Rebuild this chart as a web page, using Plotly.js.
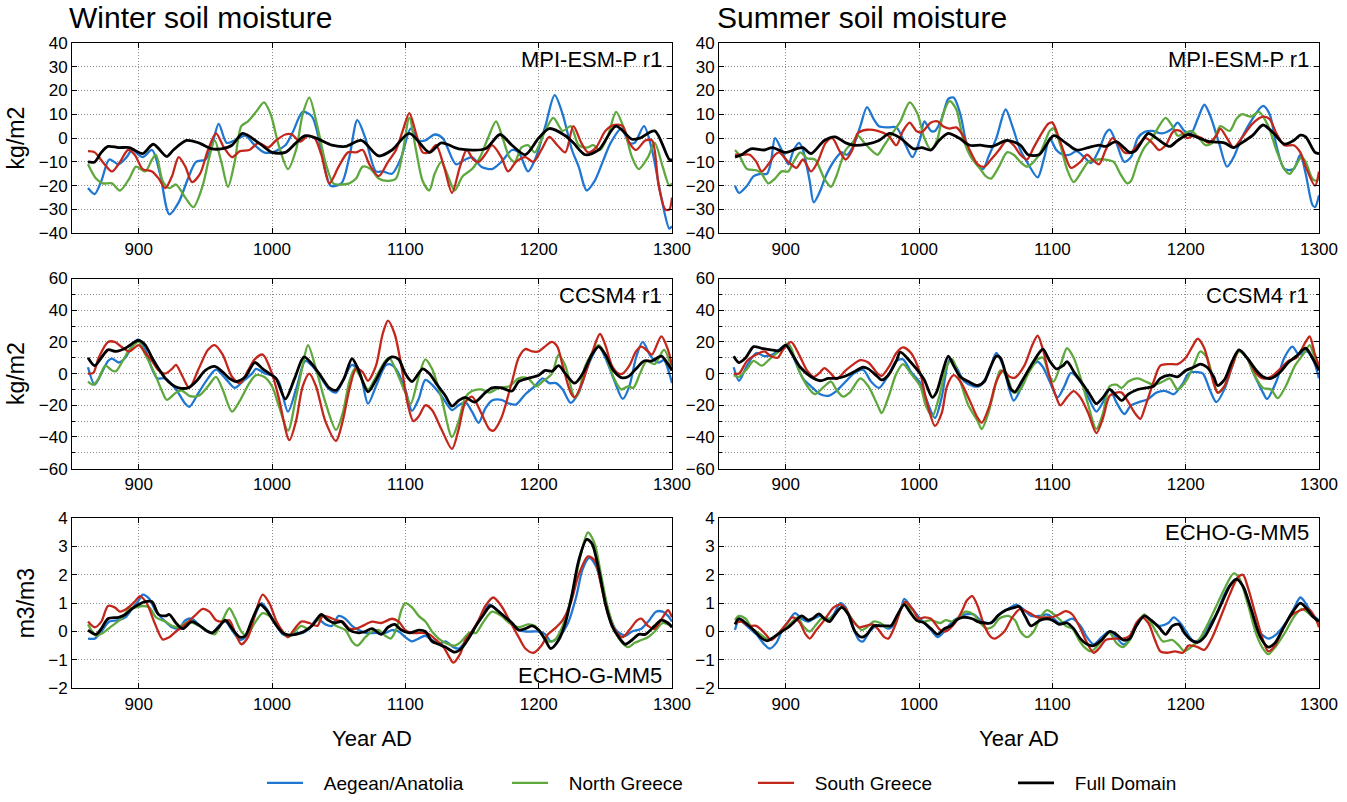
<!DOCTYPE html>
<html>
<head>
<meta charset="utf-8">
<script src="https://cdn.plot.ly/plotly-3.0.1.min.js"></script>
<style>html,body{margin:0;padding:0;background:#fff}#chart{width:1347px;height:802px}</style>
</head>
<body>
<div id="chart"></div>
<script>
// ---------- DATA (year, value) ----------
const SERIES_NAMES = ['Aegean/Anatolia', 'North Greece', 'South Greece', 'Full Domain'];
const PANEL_LABELS = ['MPI-ESM-P r1', 'MPI-ESM-P r1', 'CCSM4 r1', 'CCSM4 r1', 'ECHO-G-MM5', 'ECHO-G-MM5'];
const X_TICKS = [900, 1000, 1100, 1200, 1300];

// Winter, MPI-ESM-P r1
const W_MPI_AEG = [[862,-21],[867,-23.5],[872,-18],[878,-9],[885,-11],[891,-8],[895,-5],[903,-8],[910,-5],[916,-15],[923,-32],[930,-27],[937,-17],[943,-10],[950,-9],[955,-3],[960,6],[966,-2],[972,-1],[980,1],[987,-3],[994,-6],[1000,-6],[1010,-3],[1016,3],[1023,11],[1030,9],[1037,-5],[1044,-20],[1052,-19],[1058,-8],[1064,7.5],[1070,0],[1078,-14],[1083,-14],[1090,-15],[1097,-8],[1104,4],[1110,-1],[1115,-1],[1122,1.5],[1128,0],[1138,-11],[1145,-9],[1150,-8],[1157,-12],[1165,-13],[1172,-10],[1180,-5],[1185,-6],[1192,-14],[1198,-8],[1205,5],[1212,18],[1218,10],[1225,-5],[1230,-12],[1236,-22],[1242,-18],[1248,-10],[1254,-2],[1262,4],[1268,-2],[1272,-2],[1279,5],[1285,-5],[1292,-25],[1298,-38],[1300,-37]];
const W_MPI_NG = [[862,-11],[868,-17],[873,-19],[880,-19],[886,-22],[893,-17],[898,-12],[905,-14],[910,-9],[913,-7],[918,-18],[923,-21],[928,-19.5],[935,-25],[941,-29],[948,-20],[953,-8],[957,-1],[962,-10],[967,-20.5],[972,-10],[977,5],[982,7],[988,11],[994,15],[999,10],[1005,-3],[1012,-13],[1018,-5],[1023,10],[1028,17],[1034,5],[1040,-10],[1046,-19],[1052,-19.5],[1058,-19],[1063,-17],[1068,-12],[1074,-13],[1080,-17],[1087,-18],[1093,-17],[1098,-6],[1103,8.5],[1108,-5],[1113,-18],[1118,-22],[1122,-15],[1127,-10],[1132,-16],[1137,-22],[1143,-16],[1150,-13],[1156,-8],[1162,0],[1168,7],[1173,0],[1178,-8],[1182,-10],[1187,-4],[1192,-3],[1197,-6],[1204,2],[1211,8.5],[1218,3],[1224,5],[1230,-3],[1236,-4],[1241,-3],[1246,-5],[1252,1],[1258,11],[1264,4],[1270,-8],[1275,-13],[1282,-8],[1287,-2],[1293,-12],[1298,-20],[1300,-19]];
const W_MPI_SG = [[862,-5.5],[867,-6],[873,-10],[880,-14],[886,-10],[892,-5],[897,-7],[903,-13],[910,-14],[915,-17],[920,-21],[925,-16],[930,-8],[935,-12],[940,-18.5],[946,-15],[952,-5],[958,2],[964,-4],[970,-8],[976,-5.5],[983,-5],[990,-2],[997,-4],[1003,-1],[1010,1.5],[1015,1.5],[1021,-1.5],[1027,1],[1032,0],[1037,-7],[1043,-19],[1050,-12],[1057,-6],[1063,-6],[1068,-5],[1073,-11],[1080,-16],[1087,-10],[1093,-5],[1098,3],[1103,10.5],[1108,2],[1113,-6],[1118,-6],[1123,-3],[1129,-12],[1135,-23],[1141,-12],[1146,-5],[1151,-9],[1155,-10],[1161,-6],[1165,-3],[1172,-8],[1177,-14],[1183,-10],[1190,-8],[1196,-10],[1202,-5],[1208,0.5],[1214,-3],[1220,-6],[1226,5],[1232,-2],[1237,-6],[1243,-4],[1250,3],[1257,5.5],[1263,5],[1268,-2],[1273,-5],[1280,-1],[1285,-1],[1290,-20],[1295,-30],[1298,-30],[1300,-25]];
const W_MPI_FD = [[862,-10],[867,-10],[872,-6],[877,-3.5],[885,-4],[893,-4],[903,-6.5],[911,-2.6],[921,-7.7],[926,-5],[936,-1],[945,-2],[955,-4.5],[962,-4.5],[970,-3],[978,2],[990,-2],[1000,-6],[1010,-6],[1018,-2],[1025,1],[1033,0],[1045,-3],[1055,-3.5],[1067,-1],[1080,-7.5],[1090,-5],[1103,2],[1118,-6],[1127,-2],[1140,-4.5],[1160,-4.5],[1171,1.5],[1180,-3],[1190,-7],[1200,0],[1208,4],[1220,1],[1226,-2],[1235,-7],[1245,-5],[1258,5],[1270,-0.5],[1276,0],[1287,3],[1298,-9],[1300,-9]];

// Winter, CCSM4 r1
const W_CCSM_AEG = [[862,4],[867,-7],[872,0],[877,8],[880,9.5],[885,7],[890,10],[897,20],[900,21.5],[905,15],[910,3],[914,-3],[920,-3],[928,-10],[935,-19],[938,-21],[945,-12],[952,-3],[958,2.5],[965,-3],[972,-9],[978,-5],[985,0],[988,3],[995,0],[1000,-1],[1005,-5],[1012,-24],[1018,-10],[1025,8],[1030,5],[1037,-3],[1043,-10],[1048,-12],[1053,-5],[1060,5.5],[1066,0],[1072,-19],[1078,-8],[1085,5],[1088,6],[1093,3],[1100,-10],[1105,-23.5],[1110,-16],[1115,-4],[1120,-7],[1127,-14],[1135,-23],[1140,-20],[1145,-18],[1150,-24],[1155,-31],[1160,-22],[1165,-17],[1172,-16.5],[1178,-19],[1183,-19.5],[1190,-13],[1197,-8],[1203,-3],[1208,-6],[1213,-6],[1218,-10],[1224,-18.5],[1230,-12],[1237,5],[1245,17],[1250,10],[1257,-5],[1263,-16],[1268,-8],[1273,10],[1278,20],[1284,11],[1290,7],[1294,8.5],[1298,0],[1300,-6]];
const W_CCSM_NG = [[862,-5],[866,-7],[870,-3],[875,5],[880,2],[883,1.5],[888,8],[893,15],[900,20],[905,12],[912,0],[918,-12],[921,-16.5],[928,-12],[932,-10.5],[938,-14],[945,-14],[952,-8],[958,-2],[963,-10],[970,-24],[976,-17],[983,-6],[988,-1],[994,-2],[1000,-8],[1005,-20],[1012,-36],[1018,-15],[1023,5],[1027,18],[1033,3],[1040,-18],[1048,-35.5],[1053,-25],[1058,-5],[1062,3],[1067,-3],[1072,-10],[1078,-2],[1085,8],[1088,10],[1094,0],[1100,-12],[1104,-19],[1110,-2],[1115,9],[1120,3],[1127,-15],[1135,-40],[1140,-30],[1145,-15],[1150,-11],[1157,-10],[1163,-12],[1170,-9],[1178,-8],[1185,-3],[1192,-3],[1198,-8],[1203,-5],[1210,0],[1215,12],[1220,5],[1227,-15],[1230,-12],[1235,5],[1245,18],[1250,12],[1256,-2],[1262,-10],[1267,-8],[1271,-9],[1276,0],[1281,8],[1287,6],[1294,15],[1300,2]];
const W_CCSM_SG = [[862,0],[866,0.5],[870,10],[877,20],[882,20],[887,17],[893,14],[900,18],[905,13],[910,8],[915,2],[920,0],[925,3],[928,5.5],[933,-2],[938,-9],[945,3],[952,15],[957,18],[963,12],[970,-2],[976,-6],[982,2],[987,9],[993,12],[1000,0],[1005,-15],[1013,-42],[1018,-30],[1023,-8],[1028,0],[1033,-8],[1040,-30],[1048,-42.5],[1053,-30],[1058,-10],[1063,3],[1068,1],[1072,-4.5],[1078,5],[1083,25],[1087,33.5],[1092,25],[1097,5],[1102,-20],[1106,-30],[1110,-27],[1115,-20],[1120,-23],[1127,-35],[1135,-47.5],[1140,-35],[1145,-18],[1150,-14.5],[1157,-25],[1163,-35],[1166,-36],[1172,-28],[1180,-5],[1185,10],[1190,15.5],[1195,14],[1200,14],[1206,18],[1210,20],[1214,17],[1218,5],[1224,-12],[1227,-15],[1233,-5],[1240,13],[1246,25],[1250,18],[1255,5],[1260,0],[1263,0],[1268,5],[1273,14],[1277,17],[1282,14],[1285,12],[1292,23.5],[1297,15],[1300,5]];
const W_CCSM_FD = [[862,10],[867,5],[872,10],[877,15],[883,14],[890,16],[897,20],[900,21],[905,18],[910,10],[915,3],[920,-3],[925,-7],[930,-9],[937,-9],[943,-5],[950,2],[957,4.5],[963,1],[968,-3],[973,-5],[980,-2],[987,7],[993,3],[998,0],[1003,-3],[1010,-16],[1017,-3],[1024,10.5],[1030,6],[1037,-2],[1043,-9],[1048,-10.5],[1054,-3],[1060,9.5],[1064,4],[1072,-11.5],[1078,-4],[1085,7],[1090,10.5],[1095,9],[1100,0],[1105,-5],[1113,3],[1118,0],[1123,-6],[1130,-14],[1135,-20.5],[1140,-17],[1145,-15],[1152,-18],[1160,-12],[1165,-9],[1172,-9],[1180,-11],[1185,-5],[1192,-3],[1200,-1],[1205,2],[1210,1.5],[1215,5],[1220,0],[1227,-6],[1233,0],[1240,12],[1245,17],[1250,12],[1256,2],[1262,-2.5],[1267,-2],[1273,3],[1279,8],[1285,8],[1292,11],[1297,6],[1300,2]];

// Winter, ECHO-G-MM5
const W_ECHO_AEG = [[862,-0.25],[867,-0.25],[872,0],[878,0.35],[885,0.4],[890,0.5],[895,0.8],[900,1.1],[903,1.3],[908,1.15],[913,0.7],[920,0.35],[925,0.15],[930,0.1],[935,0.4],[940,0.45],[946,0.2],[950,0.05],[955,-0.05],[960,0.2],[965,0.35],[970,0.05],[976,-0.3],[980,-0.2],[985,0.3],[992,1.0],[996,0.8],[1002,0.3],[1008,-0.1],[1012,-0.15],[1018,-0.05],[1023,-0.05],[1028,0.1],[1034,0.45],[1040,0.25],[1045,0.2],[1050,0.55],[1055,0.45],[1060,0.2],[1065,0.05],[1070,-0.05],[1078,-0.05],[1085,-0.05],[1090,0.05],[1095,0],[1100,-0.2],[1105,-0.35],[1110,-0.25],[1115,-0.15],[1120,-0.3],[1125,-0.45],[1130,-0.35],[1136,-0.55],[1140,-0.6],[1145,-0.35],[1150,0],[1157,0.5],[1163,0.95],[1168,0.8],[1175,0.5],[1180,0.3],[1185,0.05],[1190,0],[1195,0],[1200,0],[1205,-0.1],[1209,-0.35],[1215,-0.2],[1222,0.3],[1228,1.2],[1233,2.2],[1238,2.6],[1243,2.3],[1248,1.5],[1253,0.6],[1258,0.05],[1265,-0.15],[1270,0],[1277,0.1],[1283,0.4],[1288,0.7],[1293,0.7],[1297,0.55],[1300,0.35]];
const W_ECHO_NG = [[862,0.25],[868,-0.15],[873,-0.05],[880,0.2],[887,0.45],[893,0.8],[898,0.85],[903,0.9],[908,0.85],[913,0.5],[920,0.35],[925,0.2],[930,0.15],[937,0.35],[945,0.2],[952,0],[957,-0.1],[962,0.3],[968,0.82],[972,0.5],[977,0],[981,-0.15],[987,0.3],[993,0.65],[998,0.55],[1003,0.3],[1008,0],[1012,-0.2],[1017,0],[1022,0.2],[1027,0.1],[1033,0.35],[1038,0.55],[1043,0.4],[1048,0.2],[1055,0.05],[1060,-0.35],[1064,-0.5],[1070,-0.2],[1075,0],[1080,0.05],[1085,-0.15],[1089,-0.25],[1093,0.05],[1097,0.75],[1100,1.0],[1105,0.85],[1110,0.55],[1115,0.35],[1120,0],[1125,-0.25],[1130,-0.4],[1137,-0.5],[1142,-0.35],[1148,-0.05],[1153,-0.05],[1158,0.3],[1165,0.7],[1172,0.55],[1178,0.3],[1185,0.15],[1192,0.25],[1197,0.2],[1203,-0.15],[1208,-0.35],[1212,-0.3],[1218,0.2],[1225,1.3],[1232,2.8],[1237,3.5],[1242,3.1],[1246,2.2],[1251,1.0],[1256,0.2],[1261,-0.3],[1267,-0.55],[1272,-0.4],[1277,-0.3],[1282,-0.2],[1287,0],[1293,0.3],[1297,0.25],[1300,0.2]];
const W_ECHO_SG = [[862,0.35],[867,0.15],[872,0.35],[877,0.9],[882,0.85],[886,0.7],[891,0.8],[897,1.05],[901,1.25],[906,1.0],[912,0.3],[918,-0.28],[923,-0.2],[928,0],[935,0.25],[942,0.55],[948,0.8],[953,0.7],[958,0.4],[963,0.35],[968,0.4],[972,0],[977,-0.45],[982,-0.2],[986,0.4],[993,1.3],[998,1.0],[1003,0.4],[1008,0],[1012,-0.2],[1017,0.1],[1022,0.35],[1028,0.3],[1034,0.2],[1038,0.55],[1043,0.5],[1048,0.4],[1053,0.35],[1058,0.1],[1063,0.1],[1068,0.2],[1075,0.35],[1082,0.3],[1090,0.45],[1095,0.35],[1100,0.05],[1105,-0.05],[1112,-0.05],[1118,-0.1],[1123,-0.3],[1128,-0.5],[1133,-0.9],[1136,-1.1],[1141,-0.8],[1145,-0.3],[1150,0],[1155,0.4],[1160,0.9],[1166,1.2],[1172,0.9],[1178,0.4],[1185,-0.2],[1190,-0.6],[1196,-0.75],[1202,-0.5],[1207,-0.1],[1212,0.1],[1218,0.4],[1224,1.0],[1230,2.0],[1237,2.65],[1242,2.5],[1247,1.6],[1252,0.6],[1258,0],[1263,-0.2],[1268,0.05],[1274,0.4],[1277,0.45],[1282,0.2],[1287,0.1],[1293,0.5],[1297,0.75],[1300,0.5]];
const W_ECHO_FD = [[862,0.05],[868,-0.1],[872,0.1],[877,0.45],[885,0.5],[890,0.6],[895,0.8],[900,0.95],[905,1.05],[910,1.05],[915,0.6],[920,0.55],[923,0.6],[928,0.3],[933,0.1],[940,0.35],[946,0.2],[952,0],[955,-0.05],[960,0.15],[965,0.4],[970,0.1],[976,-0.2],[980,-0.15],[985,0.4],[991,0.95],[996,0.75],[1002,0.3],[1008,-0.05],[1012,-0.12],[1018,-0.1],[1024,0],[1030,0.2],[1037,0.6],[1042,0.4],[1047,0.3],[1052,0.35],[1058,0.05],[1065,-0.05],[1070,0],[1075,0.1],[1082,-0.1],[1087,0.15],[1092,0.25],[1097,0.05],[1103,-0.05],[1110,0.05],[1115,0],[1120,-0.35],[1125,-0.45],[1130,-0.55],[1137,-0.73],[1142,-0.6],[1148,-0.2],[1153,0.2],[1158,0.55],[1164,0.9],[1170,0.7],[1175,0.5],[1180,0.3],[1185,0.05],[1190,0.1],[1195,0.2],[1200,0.05],[1205,-0.3],[1209,-0.6],[1215,-0.3],[1220,0.3],[1225,1.3],[1230,2.5],[1236,3.25],[1240,3.1],[1245,2.2],[1250,1.0],[1255,0.2],[1260,-0.2],[1265,-0.45],[1270,-0.3],[1275,-0.1],[1280,-0.1],[1287,0.2],[1292,0.4],[1297,0.3],[1300,0.15]];

// Summer, MPI-ESM-P r1
const S_MPI_AEG = [[862,-20],[865,-23],[871,-20],[876,-16],[881,-15],[886,-15],[889,-10],[892,0],[897,-5],[902,-11],[906,-5],[910,-2],[913,-5],[918,-18],[921,-27],[926,-22],[930,-16],[937,-9],[942,-6],[946,-7],[951,-3],[956,5],[961,13],[966,8],[970,5],[977,4.5],[983,4.5],[990,-3],[995,-8],[1001,0],[1004,7],[1009,3],[1012,3],[1017,8],[1022,16.5],[1026,17],[1031,10],[1036,-3],[1042,-10],[1048,-13],[1052,-8],[1058,0],[1065,12],[1070,5],[1076,-5],[1081,-10],[1089,-16.5],[1094,-8],[1098,0],[1103,-5],[1108,-7],[1113,-7],[1118,-5.5],[1124,-8],[1129,-10.5],[1135,-5],[1140,2],[1143,3.5],[1148,-2],[1154,-10],[1159,-8],[1164,0],[1169,2.5],[1175,3],[1182,2],[1190,4],[1194,6.5],[1199,3],[1204,2],[1209,8],[1214,14],[1218,10],[1225,-2],[1231,-12],[1236,-8],[1242,0],[1250,8],[1258,13.5],[1263,10],[1268,-3],[1274,-13],[1281,-13],[1286,-7],[1290,-15],[1295,-28],[1297,-29],[1300,-24]];
const S_MPI_NG = [[862,-5],[865,-7],[871,-13],[878,-13.5],[882,-15],[887,-19],[892,-17],[897,-14],[902,-14],[906,-10],[911,-6],[916,-8.5],[922,-9],[929,-17],[934,-20.5],[938,-16],[945,-5],[950,-2],[954,1],[959,-2],[966,-6],[969,-7],[974,-3],[980,2],[986,7],[993,15],[999,10],[1004,0],[1009,-5],[1014,0],[1018,10],[1023,15.5],[1028,12],[1033,0],[1039,-8],[1046,-13],[1050,-16],[1054,-17],[1060,-12],[1066,-6],[1071,-7],[1076,-10],[1081,-12],[1086,-10],[1092,-5],[1098,3],[1101,4],[1106,-3],[1111,-13],[1116,-18.5],[1122,-14],[1127,-10],[1134,-9],[1140,-9],[1146,-10],[1151,-15],[1156,-19],[1159,-18],[1164,-10],[1169,-4],[1175,0],[1180,5],[1185,8.5],[1190,5],[1194,1],[1199,2],[1204,3],[1210,0],[1215,-3],[1220,-2],[1226,5],[1233,3],[1238,8],[1242,10],[1249,9],[1255,11],[1262,5],[1268,-5],[1274,-13],[1278,-15],[1282,-12],[1287,-8],[1290,-10],[1295,-17],[1298,-18],[1300,-17]];
const S_MPI_SG = [[862,-7],[868,-7],[873,-7],[878,-10],[882,-14],[887,-11],[892,-7],[895,-6],[902,-10],[908,-12.5],[913,-9],[919,-14],[924,-10],[930,-2],[935,0],[940,-5],[945,-9],[950,-5],[954,2],[961,3.5],[969,3],[977,1],[983,-3],[988,3],[993,6.5],[998,3],[1002,2.5],[1009,6.5],[1014,7],[1018,5],[1023,4],[1028,4.5],[1033,1],[1038,-5],[1044,-11],[1049,-12],[1054,-9],[1060,-5],[1066,-1],[1071,-3],[1076,-7],[1081,-9],[1086,-4],[1092,2],[1097,6],[1100,6.5],[1105,0],[1110,-8],[1114,-12.5],[1121,-10],[1126,-7],[1130,-9],[1135,-11],[1140,-5],[1145,0],[1150,-3],[1154,-6],[1159,-6],[1164,-3],[1170,0],[1175,-2],[1180,-5],[1185,-3],[1191,3],[1196,3],[1201,0],[1206,1],[1212,0],[1217,-2],[1223,1],[1226,4],[1231,0],[1236,-4],[1242,0],[1250,6],[1258,9],[1263,8],[1268,2],[1274,-3],[1281,-3],[1286,-6],[1290,-12],[1297,-20],[1300,-14]];
const S_MPI_FD = [[862,-8],[867,-7],[874,-4.5],[884,-5],[890,-4],[900,-6],[908,-4.5],[913,-4],[919,-6.5],[929,-1],[937,0.5],[945,-2],[951,-3],[961,-2.5],[970,-1],[978,2],[986,0],[996,-4.5],[1002,-4],[1009,-5],[1015,-1],[1022,2],[1030,0],[1038,-3],[1046,-3],[1055,-3.5],[1066,-1],[1076,-3],[1082,-7],[1090,-7],[1101,1],[1110,-2],[1118,-5],[1127,-4],[1135,-3],[1140,-3.5],[1148,-1.5],[1158,-6],[1162,-5.5],[1172,2],[1178,0],[1188,-3.5],[1194,-1],[1202,1.5],[1210,0],[1218,-1.5],[1229,-2],[1236,-4],[1242,-2],[1250,1],[1258,5.5],[1266,2],[1274,-2.5],[1281,-1],[1286,1.2],[1290,0.5],[1297,-6],[1300,-6.5]];

// Summer, CCSM4 r1
const S_CCSM_AEG = [[861,4],[865,-4.5],[871,5],[878,13],[884,11],[890,12],[898,17],[902,18],[906,10],[913,-3],[919,-8],[926,-13],[932,-14],[938,-11],[945,-5],[951,0],[958,2.5],[964,-5],[970,-9],[977,-1],[983,8],[988,9],[994,1],[1001,-6],[1005,-15],[1012,-28],[1017,-15],[1023,9],[1028,4],[1034,-5],[1041,-8],[1045,-8],[1052,0],[1058,13],[1063,5],[1071,-17],[1076,-10],[1082,2],[1089,7.5],[1093,4],[1098,-5],[1104,-15],[1109,-8],[1114,0.5],[1121,-5],[1127,-15],[1133,-24],[1138,-18],[1143,-10],[1148,-18],[1154,-25.5],[1159,-20],[1165,-18],[1172,-16],[1178,-12],[1185,-11],[1191,-13],[1198,-6],[1202,0],[1209,1],[1213,0],[1218,-10],[1223,-18],[1229,-10],[1235,5],[1240,15],[1246,10],[1251,0],[1258,-12],[1261,-16],[1268,-5],[1274,10],[1280,17],[1285,12],[1291,14],[1296,8],[1300,-3]];
const S_CCSM_NG = [[861,-1],[865,-2],[871,3],[876,8],[882,5],[889,10],[895,14],[902,19],[906,12],[911,0],[918,-10],[922,-13],[929,-8],[934,-5],[938,-10],[943,-14.5],[948,-12],[956,-3],[962,-8],[969,-20],[972,-25],[977,-15],[983,0],[988,6],[994,0],[1001,-8],[1005,-20],[1010,-27],[1015,-15],[1021,5],[1025,9],[1031,-5],[1037,-20],[1044,-30],[1047,-35],[1052,-25],[1058,-5],[1061,2],[1066,-2],[1071,-12],[1076,-10],[1082,0],[1089,9],[1093,10],[1098,-2],[1101,-5],[1106,5],[1111,16],[1116,10],[1122,-5],[1127,-20],[1133,-35],[1138,-25],[1143,-8],[1148,-7],[1152,-9],[1157,-5],[1164,-3],[1170,-5],[1176,-7],[1183,-5],[1188,-3],[1194,-10],[1200,-5],[1206,5],[1211,14],[1216,10],[1221,-5],[1224,-12],[1229,-8],[1235,5],[1240,14],[1246,10],[1251,0],[1258,-9],[1264,-10],[1269,-15.5],[1275,-8],[1282,5],[1288,12],[1293,18],[1296,12],[1300,3]];
const S_CCSM_SG = [[861,0],[865,0],[871,8],[878,12],[884,14],[889,11],[894,10],[898,15],[904,20],[910,12],[916,2],[921,-2],[926,1],[929,3.5],[934,0],[938,-3.5],[945,2],[951,6],[956,8.5],[962,7],[969,0],[972,-1.5],[978,5],[983,13],[988,16.5],[994,13],[1001,0],[1005,-15],[1012,-33],[1017,-25],[1021,-8],[1026,-1],[1031,-5],[1037,-15],[1044,-28],[1047,-31],[1053,-20],[1058,-5],[1063,2],[1068,-2],[1072,-2.5],[1079,5],[1085,18],[1089,24],[1093,15],[1098,-2],[1103,-15],[1106,-20],[1111,-15],[1116,-11],[1121,-15],[1127,-25],[1133,-37.5],[1138,-28],[1143,-14],[1148,-12],[1152,-12],[1157,-18],[1162,-25],[1166,-28.5],[1170,-20],[1176,-5],[1181,5],[1188,6],[1194,6],[1200,10],[1205,17],[1209,22],[1214,16],[1219,0],[1224,-12],[1229,-8],[1235,5],[1240,15],[1246,10],[1253,0],[1258,-3],[1264,-2],[1271,3],[1277,8],[1283,10],[1290,20],[1293,23.5],[1297,12],[1300,5]];
const S_CCSM_FD = [[861,11],[865,7],[870,10],[876,17],[882,16],[889,15],[895,14.5],[900,18],[905,12],[911,4],[919,-2],[926,-4.5],[932,-3],[938,-3],[945,-1.5],[951,1],[958,4],[962,3],[969,-2],[972,-4],[977,-1],[983,8],[986,13.5],[993,8],[999,2],[1004,-4],[1010,-15],[1013,-12],[1018,2],[1022,11],[1026,5],[1031,-2],[1037,-5],[1044,-7.5],[1049,-5],[1053,3],[1058,11],[1061,10],[1066,-3],[1069,-10],[1072,-11.5],[1077,-5],[1084,5],[1090,13],[1093,15.5],[1098,8],[1103,3],[1108,5],[1111,7.5],[1117,0],[1124,-8],[1128,-13],[1133,-19],[1138,-15],[1143,-10],[1148,-14],[1152,-17],[1157,-13],[1164,-10],[1170,-9],[1176,-8],[1181,-3],[1188,-1],[1194,-2],[1200,2],[1206,4],[1211,6],[1216,4],[1221,-2],[1224,-7.5],[1229,-4],[1235,8],[1240,15],[1246,10],[1253,2],[1258,-2],[1264,-3],[1271,1],[1277,7],[1283,11],[1290,16],[1295,10],[1300,2]];

// Summer, ECHO-G-MM5
const S_ECHO_AEG = [[862,0.05],[865,0.4],[872,0.15],[878,-0.1],[883,-0.4],[888,-0.6],[893,-0.4],[897,0],[902,0.35],[907,0.65],[912,0.45],[917,0.35],[921,0.45],[926,0.55],[931,0.4],[936,0.6],[941,1.0],[945,0.85],[950,0.2],[955,-0.3],[958,-0.35],[963,0],[968,0.2],[973,0.2],[977,0.1],[982,0.3],[987,0.9],[989,1.15],[995,0.8],[1000,0.5],[1004,0.3],[1009,0.05],[1014,-0.2],[1019,0],[1025,0.35],[1030,0.5],[1035,0.6],[1041,0.6],[1046,0.4],[1051,0.3],[1056,0.35],[1060,0.6],[1067,0.8],[1073,0.95],[1078,0.8],[1084,0.55],[1091,0.55],[1096,0.6],[1100,0.5],[1105,0.3],[1110,0.35],[1115,0.45],[1121,0.2],[1126,-0.2],[1131,-0.45],[1137,-0.2],[1143,0],[1148,-0.2],[1153,-0.45],[1158,-0.3],[1163,0.2],[1169,0.55],[1174,0.4],[1180,0.2],[1187,0.3],[1191,0.5],[1196,0.3],[1201,-0.05],[1206,-0.35],[1210,-0.3],[1217,0.2],[1223,0.6],[1229,1.3],[1236,1.8],[1239,1.85],[1244,1.5],[1250,0.6],[1255,0],[1262,-0.25],[1268,-0.1],[1275,0.3],[1281,0.8],[1286,1.2],[1290,1.0],[1295,0.6],[1300,0.4]];
const S_ECHO_NG = [[862,0.4],[865,0.55],[870,0.45],[875,0.1],[881,-0.1],[888,-0.3],[893,-0.15],[897,0],[904,0.3],[909,0.5],[913,0.2],[918,0],[923,0.25],[928,0.5],[933,0.45],[937,0.6],[942,0.85],[947,0.6],[952,0.3],[957,0.05],[961,0.15],[966,0.35],[971,0.3],[976,0.15],[981,0.3],[987,0.85],[990,1.05],[995,0.6],[1000,0.35],[1004,0.35],[1009,0.4],[1016,0.3],[1020,0.4],[1025,0.35],[1030,0.5],[1035,0.7],[1041,0.6],[1046,0.3],[1051,0.1],[1056,0.2],[1060,0.45],[1067,0.55],[1072,0.4],[1076,0],[1081,-0.2],[1086,0],[1091,0.5],[1096,0.75],[1100,0.65],[1105,0.45],[1110,0.2],[1115,0.1],[1120,-0.3],[1124,-0.55],[1129,-0.7],[1134,-0.5],[1139,-0.2],[1143,-0.05],[1148,-0.4],[1153,-0.55],[1158,-0.3],[1164,0.3],[1169,0.6],[1174,0.3],[1179,-0.1],[1183,-0.35],[1190,-0.3],[1195,-0.5],[1199,-0.7],[1204,-0.55],[1210,-0.3],[1217,0.3],[1223,0.9],[1229,1.5],[1236,2.05],[1240,1.9],[1247,0.9],[1253,-0.1],[1258,-0.6],[1262,-0.8],[1268,-0.5],[1275,0],[1281,0.5],[1287,0.8],[1292,0.65],[1297,0.45],[1300,0.35]];
const S_ECHO_SG = [[862,0.3],[867,0.35],[872,0.2],[878,0.2],[885,-0.1],[889,-0.3],[894,-0.1],[901,0.3],[905,0.5],[910,0.35],[915,-0.1],[918,-0.25],[923,0.05],[929,0.4],[936,0.85],[941,0.95],[945,0.8],[950,0.4],[955,0.15],[960,0.2],[965,0.25],[969,0.1],[974,-0.2],[977,-0.25],[982,0.2],[987,0.85],[990,1.05],[995,0.8],[1000,0.45],[1004,0.5],[1009,0.45],[1016,0.05],[1020,0],[1027,0.3],[1032,0.7],[1036,1.1],[1040,1.25],[1044,0.9],[1049,0.2],[1054,-0.2],[1057,-0.25],[1064,0],[1070,0.5],[1076,0.8],[1083,0.65],[1089,0.5],[1096,0.5],[1100,0.5],[1105,0.6],[1110,0.72],[1115,0.6],[1120,0.2],[1126,-0.4],[1131,-0.75],[1135,-0.6],[1140,-0.3],[1147,-0.25],[1153,-0.25],[1158,-0.15],[1163,0.3],[1167,0.5],[1172,0.3],[1177,-0.3],[1181,-0.7],[1186,-0.75],[1192,-0.7],[1198,-0.75],[1202,-0.5],[1209,-0.55],[1214,-0.65],[1220,-0.2],[1227,0.6],[1233,1.3],[1239,1.9],[1243,2.0],[1247,1.5],[1253,0.5],[1258,-0.3],[1262,-0.7],[1267,-0.5],[1273,0.1],[1279,0.55],[1286,0.75],[1292,0.8],[1297,0.5],[1300,0.15]];
const S_ECHO_FD = [[862,0.25],[865,0.45],[870,0.3],[877,0],[881,-0.2],[886,-0.33],[891,-0.2],[897,0],[902,0.15],[909,0.45],[912,0.55],[917,0.4],[920,0.45],[925,0.62],[929,0.45],[933,0.35],[937,0.6],[942,0.85],[947,0.6],[952,0],[957,-0.2],[961,-0.1],[966,0.2],[971,0.2],[976,0.2],[979,0.2],[984,0.6],[989,0.95],[993,0.7],[998,0.4],[1004,0.3],[1009,0.1],[1014,-0.1],[1019,0.1],[1024,0.2],[1028,0.4],[1033,0.5],[1040,0.45],[1044,0.35],[1049,0.3],[1054,0.3],[1059,0.55],[1065,0.75],[1072,0.85],[1075,0.88],[1080,0.5],[1084,0.2],[1091,0.4],[1096,0.45],[1100,0.4],[1105,0.25],[1111,0.3],[1116,0.1],[1121,-0.25],[1126,-0.45],[1131,-0.5],[1137,-0.3],[1143,0],[1148,-0.1],[1153,-0.3],[1158,-0.25],[1163,0.2],[1169,0.55],[1174,0.4],[1180,0.15],[1185,-0.1],[1190,0.2],[1195,0.25],[1199,-0.05],[1204,-0.3],[1209,-0.38],[1214,-0.2],[1220,0.3],[1227,1.0],[1233,1.6],[1238,1.85],[1243,1.6],[1249,0.8],[1256,-0.2],[1262,-0.55],[1267,-0.4],[1273,0.1],[1279,0.6],[1286,1.0],[1290,0.85],[1295,0.55],[1300,0.35]];

// ---------- STYLE ----------
const COLORS = ['#1f77d2', '#5ea83d', '#c3271c', '#000000'];
const WIDTHS = [2.3, 2.3, 2.3, 2.8];
const FONT = 'Liberation Sans, Arial, sans-serif';

const PANELS = [
  {series: [W_MPI_AEG, W_MPI_NG, W_MPI_SG, W_MPI_FD]},
  {series: [S_MPI_AEG, S_MPI_NG, S_MPI_SG, S_MPI_FD]},
  {series: [W_CCSM_AEG, W_CCSM_NG, W_CCSM_SG, W_CCSM_FD]},
  {series: [S_CCSM_AEG, S_CCSM_NG, S_CCSM_SG, S_CCSM_FD]},
  {series: [W_ECHO_AEG, W_ECHO_NG, W_ECHO_SG, W_ECHO_FD]},
  {series: [S_ECHO_AEG, S_ECHO_NG, S_ECHO_SG, S_ECHO_FD]}
];

const W = 1347, H = 802;
const colX = [[72, 672], [719, 1319]];
const rowY = [[43.3, 236], [281.7, 474], [524, 696]];
const yRanges = [[-40, 40], [-60, 60], [-2, 4]];
const yDticks = [10, 20, 1];
const yTitles = ['kg/m2', 'kg/m2', 'm3/m3'];
const legendIds = ['legend', 'legend2', 'legend3', 'legend4'];
const GRID = {gridcolor: '#8c8c8c', gridwidth: 1, griddash: '1px,2px'};

const traces = [];
PANELS.forEach((p, i) => {
  const ax = i === 0 ? '' : String(i + 1);
  p.series.forEach((s, k) => {
    traces.push({
      type: 'scatter', mode: 'lines',
      x: s.map(d => d[0]), y: s.map(d => d[1]),
      xaxis: 'x' + ax, yaxis: 'y' + ax,
      name: '\u00a0\u00a0\u00a0' + SERIES_NAMES[k],
      legend: legendIds[k],
      showlegend: i === 0,
      line: {color: COLORS[k], width: WIDTHS[k], shape: 'spline', smoothing: 0.8},
      hoverinfo: 'skip'
    });
  });
});

const layout = {
  width: W, height: H, autosize: false,
  margin: {l: 0, r: 0, t: 0, b: 0},
  paper_bgcolor: '#fff', plot_bgcolor: '#fff',
  font: {family: FONT, color: '#000', size: 17},
  annotations: [], showlegend: true
};

for (let i = 0; i < 6; i++) {
  const r = Math.floor(i / 2), c = i % 2;
  const ax = i === 0 ? '' : String(i + 1);
  const xd = [colX[c][0] / W, colX[c][1] / W];
  const yd = [1 - rowY[r][1] / H, 1 - rowY[r][0] / H];
  const common = Object.assign({
    ticks: 'inside', ticklen: 5, tickwidth: 1, tickcolor: '#000',
    showline: true, linecolor: '#000', linewidth: 1, mirror: 'ticks',
    showgrid: true,
    zeroline: false, automargin: false, fixedrange: true,
    tickfont: {family: FONT, size: 17, color: '#000'}
  }, GRID);
  layout['xaxis' + ax] = Object.assign({}, common, {
    domain: xd, anchor: 'y' + ax, range: [850, 1300],
    tickmode: 'array', tickvals: X_TICKS, ticktext: X_TICKS.map(String),
    title: r === 2 ? {text: 'Year AD', font: {family: FONT, size: 22}, standoff: 18} : {text: ''}
  });
  const ya = Object.assign({}, common, {
    domain: yd, anchor: 'x' + ax, range: yRanges[r], dtick: yDticks[r], tick0: 0,
    title: c === 0 ? {text: yTitles[r], font: {family: FONT, size: 23}, standoff: 7} : {text: ''}
  });
  if (r === 1) {
    ya.minor = Object.assign({dtick: 10, tick0: 0, ticks: 'inside', ticklen: 3, tickcolor: '#000', showgrid: true}, GRID);
  }
  layout['yaxis' + ax] = ya;

  const topLabel = !(i === 4);
  layout.annotations.push({
    text: PANEL_LABELS[i], showarrow: false,
    xref: 'x' + ax + ' domain', yref: 'y' + ax + ' domain',
    x: 0.987, y: topLabel ? 0.913 : 0.076,
    xanchor: 'right', yanchor: 'middle',
    font: {family: FONT, size: 22, color: '#000'}
  });
}

layout.annotations.push(
  {text: 'Winter soil moisture', showarrow: false, xref: 'paper', yref: 'paper',
   x: 67 / W, y: 1 - 18 / H, xanchor: 'left', yanchor: 'middle', font: {family: FONT, size: 30}},
  {text: 'Summer soil moisture', showarrow: false, xref: 'paper', yref: 'paper',
   x: 715 / W, y: 1 - 18 / H, xanchor: 'left', yanchor: 'middle', font: {family: FONT, size: 30}}
);

const legX = [262, 507, 753, 1013];
legendIds.forEach((id, k) => {
  layout[id] = {
    x: legX[k] / W, y: 1 - 792 / H, xanchor: 'left', yanchor: 'middle',
    orientation: 'h', bgcolor: 'rgba(0,0,0,0)', borderwidth: 0,
    itemwidth: 36, font: {family: FONT, size: 19, color: '#000'},
    itemclick: false, itemdoubleclick: false
  };
});

Plotly.newPlot('chart', traces, layout, {displayModeBar: false, staticPlot: true});
</script>
</body>
</html>
